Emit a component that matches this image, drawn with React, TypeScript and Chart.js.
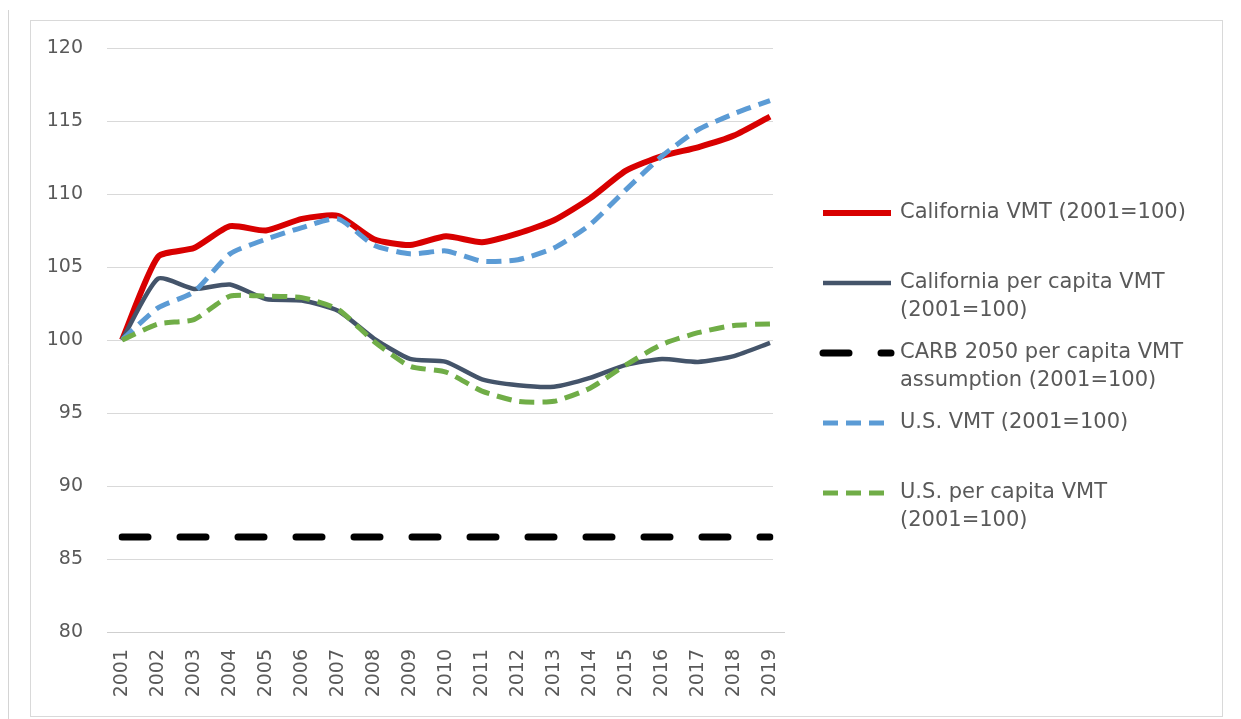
import React, { useEffect, useRef } from "react";
import { Chart, registerables } from "chart.js";

Chart.register(...registerables);

const years = ["2001", "2002", "2003", "2004", "2005", "2006", "2007", "2008", "2009", "2010", "2011", "2012", "2013", "2014", "2015", "2016", "2017", "2018", "2019"];
const californiaVmt = [100, 105.7, 106.3, 107.8, 107.5, 108.3, 108.5, 106.9, 106.5, 107.1, 106.7, 107.3, 108.2, 109.7, 111.6, 112.6, 113.2, 114.0, 115.3];
const californiaPerCapitaVmt = [100, 104.2, 103.5, 103.8, 102.8, 102.7, 102.0, 100.1, 98.7, 98.5, 97.3, 96.9, 96.8, 97.4, 98.3, 98.7, 98.5, 98.9, 99.8];
const carbAssumption = [86.5, 86.5, 86.5, 86.5, 86.5, 86.5, 86.5, 86.5, 86.5, 86.5, 86.5, 86.5, 86.5, 86.5, 86.5, 86.5, 86.5, 86.5, 86.5];
const usVmt = [100, 102.2, 103.3, 105.9, 106.9, 107.7, 108.3, 106.5, 105.9, 106.1, 105.4, 105.5, 106.3, 107.9, 110.3, 112.6, 114.4, 115.5, 116.4];
const usPerCapitaVmt = [100, 101.1, 101.4, 103.0, 103.0, 102.9, 102.1, 99.9, 98.2, 97.8, 96.5, 95.8, 95.8, 96.7, 98.3, 99.7, 100.5, 101.0, 101.1];

const legendLines = [
  ["California VMT (2001=100)"],
  ["California per capita VMT", "(2001=100)"],
  ["CARB 2050 per capita VMT", "assumption (2001=100)"],
  ["U.S. VMT (2001=100)"],
  ["U.S. per capita VMT", "(2001=100)"],
];

const yMin = 80;
const yMax = 120;
const yStep = 5;

const FONT = "'DejaVu Sans', sans-serif";
const TEXT = "#595959";

const framePlugin = {
  id: "frame",
  beforeDraw(chart: any) {
    const ctx = chart.ctx;
    ctx.save();
    ctx.fillStyle = "#ffffff";
    ctx.fillRect(0, 0, chart.width, chart.height);
    ctx.strokeStyle = "#d4d4d4";
    ctx.lineWidth = 1;
    ctx.beginPath();
    ctx.moveTo(8.5, 10);
    ctx.lineTo(8.5, chart.height);
    ctx.stroke();
    ctx.strokeStyle = "#d9d9d9";
    ctx.strokeRect(30.5, 20.5, 1192, 696);
    ctx.restore();
  },
  beforeDatasetsDraw(chart: any) {
    const ctx = chart.ctx;
    const y = chart.scales.y;
    const { left, right } = chart.chartArea;
    ctx.save();
    ctx.lineWidth = 1;
    y.ticks.forEach((t: any) => {
      const py = Math.round(y.getPixelForValue(t.value)) + 0.5;
      ctx.strokeStyle = t.value === yMin ? "#cfcfcf" : "#d9d9d9";
      ctx.beginPath();
      ctx.moveTo(left - 15, py);
      ctx.lineTo(t.value === yMin ? right + 15 : right + 3, py);
      ctx.stroke();
    });
    ctx.restore();
  },
};

const legendPlugin = {
  id: "customLegend",
  afterDraw(chart: any) {
    const ctx = chart.ctx;
    const x0 = chart.chartArea.right + 53;
    const sampleW = 68;
    const rowStep = 70;
    const lineH = 28;
    const firstY = 213;
    ctx.save();
    chart.data.datasets.forEach((ds: any, i: number) => {
      const yy = firstY + i * rowStep;
      ctx.beginPath();
      ctx.strokeStyle = ds.borderColor;
      ctx.lineWidth = ds.borderWidth;
      ctx.lineCap = ds.borderCapStyle || "butt";
      ctx.setLineDash(ds.borderDash || []);
      ctx.moveTo(x0, yy);
      ctx.lineTo(x0 + sampleW, yy);
      ctx.stroke();
      ctx.setLineDash([]);
      ctx.fillStyle = TEXT;
      ctx.font = `21px ${FONT}`;
      ctx.textBaseline = "middle";
      ctx.textAlign = "left";
      legendLines[i].forEach((line, j) => {
        ctx.fillText(line, x0 + 77, yy + j * lineH);
      });
    });
    ctx.restore();
  },
};

export default function App() {
  const ref = useRef<HTMLCanvasElement | null>(null);

  useEffect(() => {
    document.body.style.margin = "0";
    document.body.style.overflow = "hidden";
    const canvas = ref.current;
    if (!canvas) return;
    const chart = new Chart(canvas, {
      type: "line",
      data: {
        labels: years,
        datasets: [
          {
            label: legendLines[0].join(" "),
            data: californiaVmt,
            borderColor: "#d80000",
            borderWidth: 6,
            tension: 0.2,
            pointRadius: 0,
            order: 5,
          },
          {
            label: legendLines[1].join(" "),
            data: californiaPerCapitaVmt,
            borderColor: "#44546a",
            borderWidth: 4.5,
            tension: 0.2,
            pointRadius: 0,
            order: 4,
          },
          {
            label: legendLines[2].join(" "),
            data: carbAssumption,
            borderColor: "#000000",
            borderWidth: 7,
            borderDash: [26, 32],
            borderCapStyle: "round",
            tension: 0,
            pointRadius: 0,
            order: 3,
          },
          {
            label: legendLines[3].join(" "),
            data: usVmt,
            borderColor: "#5b9bd5",
            borderWidth: 5,
            borderDash: [15, 8],
            tension: 0.2,
            pointRadius: 0,
            order: 2,
          },
          {
            label: legendLines[4].join(" "),
            data: usPerCapitaVmt,
            borderColor: "#70ad47",
            borderWidth: 5,
            borderDash: [15, 8],
            tension: 0.2,
            pointRadius: 0,
            order: 1,
          },
        ],
      },
      options: {
        animation: false,
        responsive: false,
        maintainAspectRatio: false,
        layout: { padding: { left: 40, right: 471, top: 48, bottom: 17 } },
        plugins: {
          legend: { display: false },
          tooltip: { enabled: false },
        },
        scales: {
          x: {
            type: "category",
            offset: false,
            grid: { display: false, drawTicks: false },
            border: { display: false },
            ticks: {
              minRotation: 90,
              maxRotation: 90,
              autoSkip: false,
              padding: 17,
              color: TEXT,
              font: { family: FONT, size: 19 },
            },
            afterFit: (s: any) => {
              s.height = 70;
              s.paddingLeft = 0;
              s.paddingRight = 0;
            },
          },
          y: {
            min: yMin,
            max: yMax,
            grid: { display: false, drawTicks: false },
            border: { display: false },
            ticks: {
              stepSize: yStep,
              padding: 39,
              color: TEXT,
              font: { family: FONT, size: 19 },
            },
            afterFit: (s: any) => {
              s.width = 82;
              s.paddingTop = 0;
              s.paddingBottom = 0;
            },
          },
        },
      },
      plugins: [framePlugin, legendPlugin],
    });
    return () => chart.destroy();
  }, []);

  return (
    <canvas
      ref={ref}
      width={1241}
      height={719}
      style={{ display: "block", width: 1241, height: 719 }}
    />
  );
}
